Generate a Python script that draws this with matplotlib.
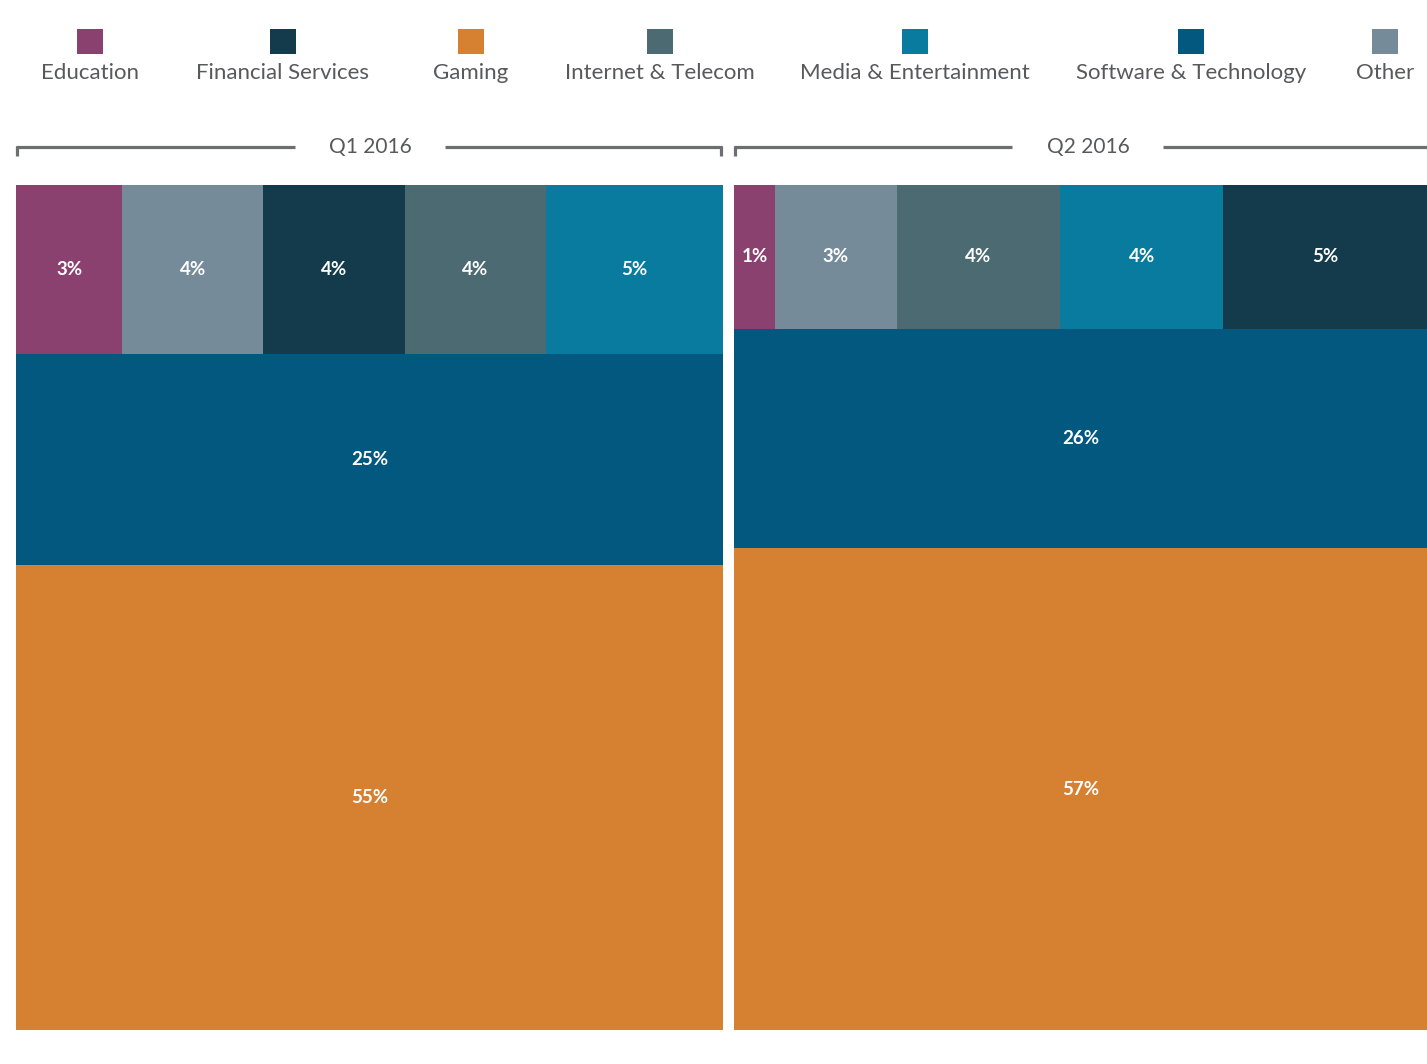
import matplotlib.pyplot as plt
from matplotlib.patches import Rectangle

plt.rcParams['font.family'] = ['Lato', 'DejaVu Sans']

# === Données ===
sectors = ["Education", "Financial Services", "Gaming", "Internet & Telecom",
           "Media & Entertainment", "Software & Technology", "Other"]
colors = {
    "Education": "#8B4170",
    "Financial Services": "#143B4B",
    "Gaming": "#D68132",
    "Internet & Telecom": "#4B6A71",
    "Media & Entertainment": "#087B9E",
    "Software & Technology": "#02587E",
    "Other": "#768B99",
}

quarters = ["Q1 2016", "Q2 2016"]
q1_small = ["Education", "Other", "Financial Services", "Internet & Telecom", "Media & Entertainment"]
q1_small_vals = [3, 4, 4, 4, 5]
q1_software = 25
q1_gaming = 55

q2_small = ["Education", "Other", "Internet & Telecom", "Media & Entertainment", "Financial Services"]
q2_small_vals = [1, 3, 4, 4, 5]
q2_software = 26
q2_gaming = 57

W, H = 1427, 1064
fig = plt.figure(figsize=(W / 100, H / 100), dpi=100)
fig.patch.set_facecolor("white")

LINE_COL = "#6d6e71"
TEXT_COL = "#58595b"
LABEL_KW = dict(ha="center", va="center", color="white", fontsize=13.5, fontweight="bold")


def draw_panel(ax, small, small_vals, software, gaming):
    total = gaming + software + sum(small_vals)
    # bas : Gaming, milieu : Software, haut : les petits secteurs côte à côte
    ax.bar(0, gaming, width=total, bottom=0, align="edge",
           color=colors["Gaming"], linewidth=0)
    ax.text(total / 2, gaming / 2, f"{gaming}%", **LABEL_KW)
    ax.bar(0, software, width=total, bottom=gaming, align="edge",
           color=colors["Software & Technology"], linewidth=0)
    ax.text(total / 2, gaming + software / 2, f"{software}%", **LABEL_KW)
    row_sum = sum(small_vals)
    x = 0
    for name, v in zip(small, small_vals):
        w = v / row_sum * total
        ax.bar(x, row_sum, width=w, bottom=gaming + software, align="edge",
               color=colors[name], linewidth=0)
        ax.text(x + w / 2, gaming + software + row_sum / 2, f"{v}%", **LABEL_KW)
        x += w
    ax.set_xlim(0, total)
    ax.set_ylim(0, total)
    ax.axis("off")


panels = [
    (16, 723, q1_small, q1_small_vals, q1_software, q1_gaming),
    (734, 1427, q2_small, q2_small_vals, q2_software, q2_gaming),
]
top, bottom = 185, 1030
for left, right, small, vals, sw, gm in panels:
    ax = fig.add_axes([left / W, (H - bottom) / H, (right - left) / W, (bottom - top) / H])
    draw_panel(ax, small, vals, sw, gm)

# === Calque décoratif (légende + en-têtes) en pixels ===
deco = fig.add_axes([0, 0, 1, 1])
deco.set_xlim(0, W)
deco.set_ylim(H, 0)
deco.axis("off")

legend_x = [90, 283, 471, 660, 915, 1191, 1385]
for name, cx in zip(sectors, legend_x):
    deco.add_patch(Rectangle((cx - 13, 29), 26, 25, color=colors[name], linewidth=0))
    deco.text(cx, 73, name, ha="center", va="center", fontsize=16, color=TEXT_COL)

headers = [
    (1088, 734, 1012, 1163, 1440, True, False),
    (370, 16, 295, 445, 722, True, True),
]
for (cx, x0, x1, x2, x3, tick_l, tick_r), q in zip(headers, quarters[::-1]):
    deco.plot([x0, x1], [147, 147], color=LINE_COL, lw=2.3, solid_capstyle="butt")
    deco.plot([x2, x3], [147, 147], color=LINE_COL, lw=2.3, solid_capstyle="butt")
    if tick_l:
        deco.plot([x0 + 1, x0 + 1], [146, 156], color=LINE_COL, lw=2.3, solid_capstyle="butt")
    if tick_r:
        deco.plot([x3 - 1, x3 - 1], [146, 156], color=LINE_COL, lw=2.3, solid_capstyle="butt")
    deco.text(cx, 147, q, ha="center", va="center", fontsize=15, color=TEXT_COL)

fig.savefig("out.png", dpi=100, facecolor="white")
